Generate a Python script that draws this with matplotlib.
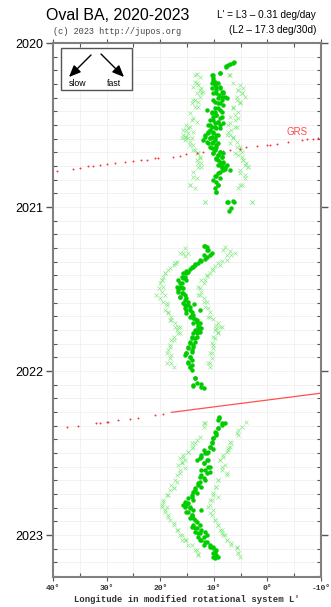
import matplotlib
matplotlib.use("Agg")
import matplotlib.pyplot as plt
from matplotlib.patches import Rectangle
from matplotlib.ticker import MultipleLocator

# Oval BA drift, (year, L') pairs; three apparitions
ba_main = [
    # 2020
    (2020.118, 6.2), (2020.136, 7.3), (2020.145, 7.7), (2020.181, 8.8), (2020.195, 10.2),
    (2020.216, 10.1), (2020.236, 9.8), (2020.246, 9.2), (2020.246, 10.4), (2020.267, 9.5),
    (2020.277, 8.8), (2020.287, 9.5), (2020.297, 8.5), (2020.307, 8.2), (2020.307, 10.1),
    (2020.317, 9.0), (2020.328, 7.9), (2020.338, 9.3), (2020.348, 8.5), (2020.358, 9.8),
    (2020.368, 8.8), (2020.399, 9.2), (2020.409, 11.3), (2020.419, 10.4), (2020.419, 8.5),
    (2020.419, 9.8), (2020.439, 9.5), (2020.450, 10.1), (2020.460, 8.8), (2020.470, 10.7),
    (2020.480, 9.2), (2020.490, 9.8), (2020.500, 11.0), (2020.500, 8.8), (2020.510, 10.4),
    (2020.521, 9.5), (2020.531, 10.7), (2020.541, 10.1), (2020.551, 11.0), (2020.561, 11.6),
    (2020.561, 9.5), (2020.571, 10.4), (2020.582, 10.7), (2020.582, 9.8), (2020.592, 12.0),
    (2020.602, 10.1), (2020.612, 11.0), (2020.612, 9.2), (2020.632, 9.5), (2020.643, 10.4),
    (2020.653, 9.8), (2020.663, 8.8), (2020.673, 10.1), (2020.673, 8.2), (2020.683, 9.2),
    (2020.693, 8.5), (2020.704, 9.5), (2020.714, 9.2), (2020.724, 8.2), (2020.734, 8.5),
    (2020.744, 8.8), (2020.744, 7.6), (2020.754, 7.9), (2020.765, 8.5), (2020.775, 8.2),
    (2020.795, 9.2), (2020.811, 9.8), (2020.825, 8.8), (2020.846, 9.5), (2020.866, 9.2),
    (2020.907, 9.6), (2020.968, 6.2), (2020.972, 7.5), (2021.023, 7.1),
    (2020.120, 6.4), (2020.128, 7.0), (2020.140, 7.7), (2020.181, 8.8), (2020.195, 10.4),
    (2020.226, 10.1), (2020.256, 9.8), (2020.266, 8.8), (2020.277, 10.4), (2020.297, 8.2),
    (2020.307, 9.5), (2020.327, 8.5), (2020.338, 7.6), (2020.348, 10.1), (2020.368, 9.2),
    (2020.378, 8.2), (2020.399, 9.8), (2020.409, 8.8), (2020.429, 10.4), (2020.439, 9.5),
    (2020.449, 8.5), (2020.470, 10.1), (2020.480, 9.2), (2020.490, 8.2), (2020.500, 10.7),
    (2020.510, 9.8), (2020.521, 8.8), (2020.541, 11.0), (2020.551, 10.1), (2020.561, 9.2),
    (2020.571, 11.6), (2020.581, 10.7), (2020.592, 9.8), (2020.602, 11.3), (2020.612, 10.4),
    (2020.622, 9.5), (2020.636, 10.7), (2020.649, 9.8), (2020.663, 8.8), (2020.673, 10.1),
    (2020.683, 9.2), (2020.697, 8.5), (2020.710, 9.5), (2020.724, 8.8), (2020.734, 8.2),
    (2020.744, 9.2), (2020.758, 8.5), (2020.771, 7.9), (2020.775, 7.0), (2020.785, 8.8),
    (2020.811, 9.5), (2020.836, 10.1), (2020.866, 9.2), (2020.887, 9.8), (2020.907, 9.5),
    (2020.962, 6.4), (2020.968, 7.3), (2021.008, 6.7),
    # 2021
    (2021.238, 11.9), (2021.242, 11.3), (2021.262, 11.0), (2021.278, 10.4), (2021.292, 10.7),
    (2021.303, 11.3), (2021.319, 11.6), (2021.327, 12.3), (2021.339, 12.9), (2021.353, 13.5),
    (2021.364, 13.8), (2021.380, 14.4), (2021.394, 14.8), (2021.404, 15.1), (2021.425, 15.4),
    (2021.435, 15.7), (2021.445, 15.1), (2021.465, 16.0), (2021.486, 16.3), (2021.496, 15.7),
    (2021.506, 16.6), (2021.526, 16.0), (2021.536, 15.4), (2021.547, 16.3), (2021.557, 15.1),
    (2021.577, 14.8), (2021.591, 13.7), (2021.597, 15.4), (2021.607, 14.4), (2021.628, 15.1),
    (2021.628, 12.6), (2021.638, 14.1), (2021.658, 13.8), (2021.673, 14.4), (2021.685, 13.5),
    (2021.699, 13.2), (2021.709, 12.6), (2021.729, 12.9), (2021.740, 12.3), (2021.750, 13.2),
    (2021.760, 12.6), (2021.770, 13.8), (2021.790, 13.2), (2021.801, 14.1), (2021.821, 13.5),
    (2021.831, 14.4), (2021.851, 13.8), (2021.862, 14.8), (2021.882, 14.1), (2021.892, 15.1),
    (2021.912, 14.4), (2021.933, 14.1), (2021.953, 14.8), (2021.973, 14.4), (2021.994, 14.1),
    (2022.044, 13.5), (2022.079, 12.3), (2022.085, 13.8), (2022.101, 11.8),
    (2021.238, 11.6), (2021.262, 11.3), (2021.293, 11.9), (2021.323, 12.6), (2021.347, 13.5),
    (2021.368, 14.1), (2021.388, 15.1), (2021.404, 15.7), (2021.425, 16.0), (2021.445, 16.6),
    (2021.465, 16.3), (2021.486, 16.9), (2021.496, 16.0), (2021.516, 16.6), (2021.526, 15.7),
    (2021.547, 16.3), (2021.567, 15.4), (2021.587, 15.7), (2021.598, 14.8), (2021.618, 15.4),
    (2021.628, 14.4), (2021.648, 15.1), (2021.658, 14.1), (2021.679, 13.8), (2021.689, 13.2),
    (2021.709, 13.8), (2021.719, 12.9), (2021.740, 12.6), (2021.750, 13.5), (2021.770, 13.2),
    (2021.790, 14.1), (2021.801, 13.5), (2021.821, 14.4), (2021.841, 13.8), (2021.851, 14.8),
    (2021.872, 14.1), (2021.892, 15.1), (2021.902, 15.4), (2021.912, 14.4), (2021.943, 14.8),
    (2021.963, 14.1), (2021.973, 14.4), (2022.045, 13.5), (2022.075, 13.2), (2022.091, 13.8),
    (2022.095, 12.3),
    # 2022
    (2022.283, 9.0), (2022.299, 9.3), (2022.315, 7.9), (2022.329, 8.5), (2022.350, 9.2),
    (2022.370, 9.8), (2022.390, 9.5), (2022.411, 10.1), (2022.431, 10.4), (2022.462, 10.7),
    (2022.478, 10.1), (2022.492, 11.0), (2022.502, 11.6), (2022.512, 12.3), (2022.533, 12.6),
    (2022.543, 11.3), (2022.543, 13.2), (2022.563, 11.9), (2022.584, 11.0), (2022.604, 11.6),
    (2022.614, 10.7), (2022.634, 12.3), (2022.655, 11.9), (2022.675, 12.6), (2022.695, 12.9),
    (2022.716, 13.5), (2022.736, 13.8), (2022.756, 14.1), (2022.777, 14.8), (2022.797, 15.4),
    (2022.817, 15.1), (2022.817, 15.7), (2022.827, 14.4), (2022.848, 12.3), (2022.858, 14.8),
    (2022.878, 14.1), (2022.899, 14.4), (2022.909, 13.5), (2022.939, 13.8), (2022.949, 14.1),
    (2022.960, 13.2), (2022.980, 13.5), (2022.980, 11.6), (2022.990, 12.6), (2023.000, 11.3),
    (2023.010, 12.9), (2023.031, 12.3), (2023.041, 11.6), (2023.061, 11.9), (2023.071, 10.7),
    (2023.081, 10.1), (2023.102, 9.8), (2023.122, 9.5), (2023.132, 10.1), (2023.142, 9.8),
    (2022.289, 9.0), (2022.319, 8.5), (2022.350, 9.2), (2022.380, 9.5), (2022.411, 10.1),
    (2022.441, 10.4), (2022.461, 10.7), (2022.482, 11.9), (2022.502, 11.3), (2022.522, 12.3),
    (2022.543, 11.0), (2022.563, 11.9), (2022.583, 10.7), (2022.604, 12.3), (2022.624, 11.3),
    (2022.644, 12.6), (2022.665, 11.6), (2022.685, 12.9), (2022.705, 12.3), (2022.726, 13.5),
    (2022.746, 13.2), (2022.766, 14.1), (2022.787, 13.8), (2022.807, 14.8), (2022.827, 15.4),
    (2022.838, 14.4), (2022.848, 13.8), (2022.858, 15.1), (2022.878, 14.1), (2022.899, 13.8),
    (2022.919, 13.2), (2022.939, 12.6), (2022.960, 13.5), (2022.970, 12.3), (2022.990, 12.9),
    (2023.010, 11.9), (2023.031, 12.6), (2023.041, 11.3), (2023.061, 10.7), (2023.071, 10.1),
    (2023.092, 9.5), (2023.112, 10.1), (2023.132, 9.2), (2023.132, 9.8),
]

# following (west) end of the oval
ba_f_end = [
    (2020.189, 13.2), (2020.206, 12.6), (2020.236, 13.5), (2020.256, 12.9), (2020.277, 12.3),
    (2020.297, 12.0), (2020.307, 13.2), (2020.328, 12.6), (2020.348, 13.8), (2020.358, 12.9),
    (2020.389, 13.5), (2020.429, 14.4), (2020.470, 14.1), (2020.500, 15.1), (2020.521, 14.8),
    (2020.531, 15.7), (2020.541, 13.8), (2020.551, 14.8), (2020.571, 15.4), (2020.571, 15.1),
    (2020.582, 14.1), (2020.582, 16.0), (2020.602, 14.4), (2020.622, 13.8), (2020.653, 13.5),
    (2020.673, 12.9), (2020.693, 12.6), (2020.714, 13.2), (2020.734, 12.3), (2020.754, 12.9),
    (2020.785, 13.8), (2020.825, 13.2), (2020.866, 14.4), (2020.886, 13.5), (2020.968, 11.6),
    (2020.195, 13.5), (2020.246, 13.2), (2020.266, 13.8), (2020.287, 12.6), (2020.307, 12.3),
    (2020.348, 13.5), (2020.368, 14.1), (2020.388, 12.9), (2020.460, 13.8), (2020.480, 13.2),
    (2020.510, 14.4), (2020.531, 15.1), (2020.561, 15.7), (2020.581, 14.8), (2020.592, 15.4),
    (2020.622, 14.4), (2020.653, 13.8), (2020.673, 13.2), (2020.704, 12.6), (2020.734, 12.9),
    (2020.754, 12.3), (2020.815, 13.8), (2020.866, 14.4), (2020.968, 11.6),
    (2021.282, 14.8), (2021.282, 15.7), (2021.299, 15.4), (2021.333, 16.9), (2021.343, 17.2),
    (2021.353, 17.5), (2021.384, 18.5), (2021.404, 19.1), (2021.425, 19.4), (2021.445, 19.7),
    (2021.465, 20.0), (2021.496, 20.3), (2021.516, 19.7), (2021.536, 20.7), (2021.557, 20.0),
    (2021.577, 19.4), (2021.597, 18.8), (2021.628, 19.1), (2021.648, 18.5), (2021.668, 17.9),
    (2021.689, 18.2), (2021.709, 17.2), (2021.729, 16.6), (2021.729, 16.3), (2021.750, 16.9),
    (2021.770, 16.3), (2021.790, 17.5), (2021.811, 17.9), (2021.841, 18.2), (2021.872, 18.5),
    (2021.892, 18.8), (2021.923, 18.2), (2021.953, 17.9), (2021.973, 17.5),
    (2021.252, 15.4), (2021.282, 16.3), (2021.343, 17.2), (2021.374, 18.2), (2021.404, 19.1),
    (2021.445, 19.7), (2021.486, 19.4), (2021.536, 19.1), (2021.587, 18.8), (2021.638, 18.5),
    (2021.689, 17.9), (2021.729, 17.2), (2021.770, 16.6), (2021.811, 17.5), (2021.851, 18.2),
    (2021.902, 17.9), (2021.953, 18.8),
    (2022.319, 11.6), (2022.340, 11.9), (2022.421, 13.2), (2022.441, 13.5), (2022.441, 14.1),
    (2022.472, 14.1), (2022.492, 14.8), (2022.512, 15.7), (2022.533, 16.3), (2022.543, 15.4),
    (2022.553, 16.0), (2022.573, 16.6), (2022.604, 16.3), (2022.634, 16.9), (2022.665, 17.2),
    (2022.695, 17.9), (2022.716, 17.5), (2022.726, 18.2), (2022.756, 18.8), (2022.787, 19.4),
    (2022.817, 19.7), (2022.827, 18.8), (2022.848, 19.1), (2022.878, 18.5), (2022.909, 18.2),
    (2022.939, 17.5), (2022.970, 16.9), (2023.000, 16.3), (2023.031, 15.4), (2023.031, 16.0),
    (2023.061, 14.8), (2023.092, 13.5), (2023.116, 12.9),
    (2022.319, 11.9), (2022.401, 12.6), (2022.462, 13.8), (2022.492, 14.8), (2022.523, 15.7),
    (2022.563, 16.0), (2022.594, 15.4), (2022.624, 16.3), (2022.675, 16.9), (2022.716, 17.5),
    (2022.756, 18.5), (2022.797, 19.4), (2022.827, 19.7), (2022.858, 19.1), (2022.888, 18.5),
    (2022.929, 17.5), (2022.970, 16.6), (2023.000, 16.0), (2023.031, 15.1), (2023.061, 14.1),
    (2023.092, 13.2), (2023.122, 12.9),
]

# preceding (east) end of the oval
ba_p_end = [
    (2020.195, 7.1), (2020.256, 5.1), (2020.277, 4.5), (2020.287, 5.4), (2020.307, 4.8),
    (2020.328, 4.2), (2020.348, 5.7), (2020.368, 5.1), (2020.399, 6.4), (2020.419, 5.4),
    (2020.450, 7.0), (2020.470, 6.0), (2020.500, 7.3), (2020.510, 5.7), (2020.531, 6.7),
    (2020.561, 7.6), (2020.561, 7.0), (2020.582, 6.4), (2020.612, 7.0), (2020.632, 5.7),
    (2020.653, 5.1), (2020.673, 6.0), (2020.693, 4.8), (2020.714, 4.5), (2020.734, 3.9),
    (2020.754, 3.6), (2020.775, 5.1), (2020.805, 4.2), (2020.866, 5.1), (2020.886, 5.4),
    (2020.970, 2.9),
    (2020.195, 7.0), (2020.246, 6.4), (2020.287, 5.4), (2020.307, 4.8), (2020.327, 5.7),
    (2020.358, 5.1), (2020.388, 6.4), (2020.439, 6.1), (2020.460, 5.4), (2020.490, 7.0),
    (2020.510, 6.1), (2020.541, 7.3), (2020.571, 6.4), (2020.602, 5.7), (2020.632, 5.1),
    (2020.663, 4.8), (2020.683, 5.4), (2020.714, 4.5), (2020.744, 4.2), (2020.754, 3.6),
    (2020.795, 5.1), (2020.826, 4.2), (2020.866, 4.8), (2020.968, 2.9),
    (2021.246, 7.9), (2021.266, 7.0), (2021.278, 6.0), (2021.292, 7.6), (2021.327, 8.5),
    (2021.343, 9.2), (2021.360, 9.8), (2021.380, 10.4), (2021.400, 10.7), (2021.420, 11.3),
    (2021.445, 11.6), (2021.465, 11.9), (2021.496, 12.6), (2021.516, 12.3), (2021.536, 12.9),
    (2021.557, 11.9), (2021.577, 11.3), (2021.607, 11.6), (2021.638, 10.7), (2021.668, 11.0),
    (2021.685, 10.1), (2021.709, 9.2), (2021.729, 8.8), (2021.729, 8.5), (2021.740, 9.5),
    (2021.750, 9.8), (2021.770, 9.2), (2021.790, 10.1), (2021.831, 10.4), (2021.862, 10.1),
    (2021.892, 10.7), (2021.923, 10.4), (2021.953, 11.0), (2021.973, 10.7),
    (2021.262, 8.2), (2021.293, 6.7), (2021.323, 7.6), (2021.353, 8.8), (2021.384, 10.1),
    (2021.414, 11.3), (2021.445, 12.3), (2021.486, 12.9), (2021.536, 12.6), (2021.577, 11.9),
    (2021.618, 11.0), (2021.669, 10.7), (2021.719, 9.5), (2021.760, 9.2), (2021.801, 9.8),
    (2021.841, 10.1), (2021.892, 10.4), (2021.953, 10.7),
    (2022.309, 3.9), (2022.360, 5.4), (2022.380, 5.7), (2022.431, 7.0), (2022.462, 7.0),
    (2022.472, 7.3), (2022.492, 7.6), (2022.523, 8.2), (2022.543, 8.8), (2022.573, 7.9),
    (2022.604, 8.5), (2022.634, 7.6), (2022.665, 9.2), (2022.705, 9.5), (2022.756, 10.1),
    (2022.766, 9.2), (2022.787, 10.4), (2022.817, 10.7), (2022.848, 10.1), (2022.878, 10.4),
    (2022.909, 9.8), (2022.939, 9.2), (2022.970, 8.8), (2022.990, 8.5), (2023.000, 8.2),
    (2023.031, 7.6), (2023.061, 6.7), (2023.081, 5.7), (2023.112, 5.4), (2023.132, 5.1),
    (2022.340, 4.8), (2022.390, 5.4), (2022.441, 6.7), (2022.482, 7.3), (2022.512, 8.2),
    (2022.543, 8.8), (2022.583, 8.5), (2022.624, 7.6), (2022.665, 9.2), (2022.705, 9.5),
    (2022.746, 10.1), (2022.787, 10.7), (2022.827, 11.0), (2022.868, 10.7), (2022.909, 9.8),
    (2022.939, 9.2), (2022.970, 8.5), (2023.000, 7.9), (2023.031, 7.6), (2023.051, 6.7),
    (2023.071, 5.7), (2023.112, 5.4),
]

# Great Red Spot passes
grs_dots = [
    (2020.780, 39.3), (2020.768, 36.2), (2020.762, 35.0), (2020.752, 33.4), (2020.750, 32.5),
    (2020.746, 31.2), (2020.740, 30.0), (2020.732, 28.4), (2020.728, 26.6), (2020.720, 25.0),
    (2020.714, 23.5), (2020.712, 22.5), (2020.703, 21.0), (2020.701, 20.35), (2020.693, 17.6),
    (2020.687, 16.3), (2020.679, 15.1), (2020.673, 13.2), (2020.667, 12.0), (2020.663, 10.1),
    (2020.657, 8.2), (2020.651, 7.0), (2020.644, 5.1), (2020.636, 3.9), (2020.628, 2.0),
    (2020.622, 0.1), (2020.620, -0.5), (2020.616, -1.7), (2020.604, -3.9), (2020.594, -6.4),
    (2020.588, -7.3), (2020.584, -8.6), (2020.578, -9.5),
    (2022.344, 37.4), (2022.333, 35.3), (2022.319, 32.0), (2022.319, 31.2), (2022.313, 30.0),
    (2022.311, 29.7), (2022.301, 27.8), (2022.291, 25.6), (2022.287, 24.1), (2022.268, 21.0),
    (2022.260, 19.4),
]
grs_track_t = [2022.252, 2022.136]
grs_track_l = [17.9, -9.8]
grs_label = (2020.543, -5.5)

year_ticks = [2020, 2021, 2022, 2023]
lon_ticks = [40, 30, 20, 10, 0, -10]

W, H = 331, 607
fig = plt.figure(figsize=(W / 100, H / 100), dpi=100)
ax = fig.add_axes([53 / W, 1 - 577 / H, 268 / W, 534 / H])


def fpos(x, y):
    # pixel position -> figure fraction
    return x / W, 1 - y / H


def split(pairs):
    return [p[1] for p in pairs], [p[0] for p in pairs]


edge_style = dict(ls="none", marker="x", ms=2.2, mew=0.45, color="#80ea80", zorder=3)
l, t = split(ba_f_end)
ax.plot(l, t, **edge_style)
l, t = split(ba_p_end)
ax.plot(l, t, **edge_style)
l, t = split(ba_main)
ax.plot(l, t, ls="none", marker="o", ms=3.2, mew=0, color="#00cc00", zorder=4)

l, t = split(grs_dots)
ax.plot(l, t, ls="none", marker="o", ms=1.4, mew=0, color="#ff3030", zorder=3)
ax.plot(grs_track_l, grs_track_t, color="#ff5050", lw=0.9, zorder=3)
ax.text(grs_label[1], grs_label[0], "GRS", color="#ff4a4a", fontsize=7,
        family="Liberation Sans", ha="center", va="center")

ax.set_xlim(40, -10)
ax.set_ylim(2020 + 534 / 164, 2020)

ax.set_xticks(lon_ticks)
ax.set_xticklabels([f"{v}°" for v in lon_ticks])
ax.xaxis.set_minor_locator(MultipleLocator(5))
ax.set_yticks(year_ticks)
ax.set_yticklabels([str(y) for y in year_ticks])
ax.yaxis.set_minor_locator(MultipleLocator(1 / 12))

for lab in ax.get_xticklabels():
    lab.set_family("Liberation Mono")
    lab.set_fontsize(5.8)
    lab.set_fontweight("bold")
    lab.set_color("#333333")
for lab in ax.get_yticklabels():
    lab.set_family("Liberation Sans")
    lab.set_fontsize(9)

ax.tick_params(axis="y", which="major", direction="out", length=5, width=1,
               color="#555555", pad=2, right=True)
ax.tick_params(axis="y", which="minor", direction="in", length=3, width=0.8,
               color="#555555", right=True)
ax.tick_params(axis="x", which="major", direction="out", length=3, width=0.8,
               color="#555555", pad=3, top=True)
ax.tick_params(axis="x", which="minor", direction="in", length=3, width=0.8,
               color="#555555", top=True)

ax.grid(which="both", color="#f0f0f0", lw=0.6, zorder=0)
ax.set_axisbelow(True)
for sp in ax.spines.values():
    sp.set_color("#808080")
    sp.set_linewidth(1.5)

ax.set_xlabel("Longitude in modified rotational system L'", family="Liberation Mono",
              fontsize=6.4, fontweight="bold", color="#333333", labelpad=2)

# heading texts
fig.text(*fpos(118, 16), "Oval BA, 2020-2023", family="Liberation Sans", fontsize=11.5,
         ha="center", va="center")
fig.text(*fpos(53, 31), "(c) 2023 http://jupos.org", family="Liberation Mono",
         fontsize=6.2, color="#444444", ha="left", va="center")
fig.text(*fpos(316, 15), "L' = L3 \u2013 0.31 deg/day", family="Liberation Sans",
         fontsize=7.2, ha="right", va="center")
fig.text(*fpos(316, 30), "(L2 \u2013 17.3 deg/30d)", family="Liberation Sans",
         fontsize=7.2, ha="right", va="center")

# slow / fast key
x0, y0 = fpos(61, 90)
x1, y1 = fpos(132, 48)
ax.add_patch(Rectangle((x0, y0), x1 - x0, y1 - y0, transform=fig.transFigure,
                       facecolor="white", edgecolor="#555555", lw=1.0, zorder=5))
arrow = dict(arrowstyle="-|>,head_length=0.7,head_width=0.3", color="black", lw=1.0,
             shrinkA=0, shrinkB=0)
ax.annotate("", xy=fpos(69, 77), xytext=fpos(91, 55), xycoords="figure fraction",
            textcoords="figure fraction", arrowprops=arrow, zorder=6)
ax.annotate("", xy=fpos(124, 77), xytext=fpos(101, 54), xycoords="figure fraction",
            textcoords="figure fraction", arrowprops=arrow, zorder=6)
ax.text(*fpos(78, 83), "slow", transform=fig.transFigure, family="Liberation Sans",
        fontsize=6.3, ha="center", va="center", zorder=6)
ax.text(*fpos(114, 83), "fast", transform=fig.transFigure, family="Liberation Sans",
        fontsize=6.3, ha="center", va="center", zorder=6)

fig.savefig("out.png", dpi=100)
